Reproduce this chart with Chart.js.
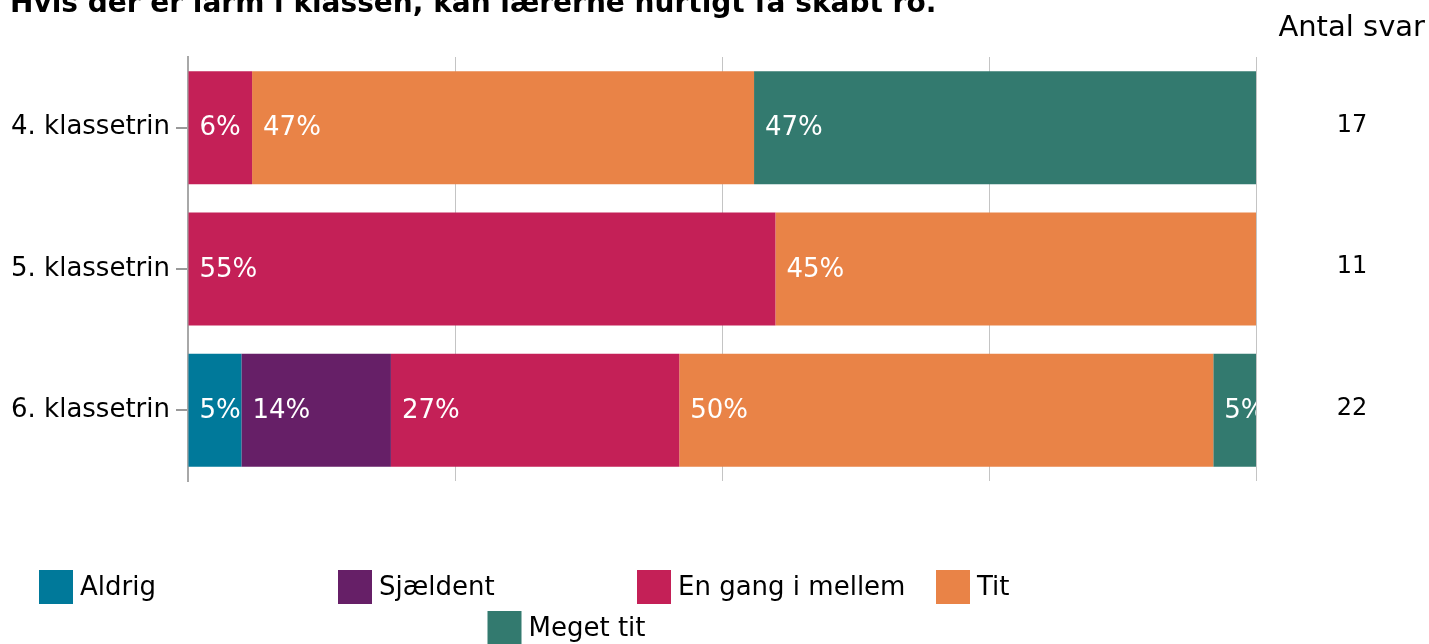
<!DOCTYPE html>
<html>
<head>
<meta charset="utf-8">
<script src="https://cdn.jsdelivr.net/npm/chart.js@4/dist/chart.umd.min.js"></script>
<style>
  html, body { margin: 0; padding: 0; background: #ffffff; }
  #chart { display: block; }
</style>
</head>
<body>
<canvas id="chart" width="1429" height="644"></canvas>
<script>
const titleText = "Hvis der er larm i klassen, kan lærerne hurtigt få skabt ro.";
const categories = ["4. klassetrin", "5. klassetrin", "6. klassetrin"];
const seriesNames = ["Aldrig", "Sjældent", "En gang i mellem", "Tit", "Meget tit"];
const aldrig = [0, 0, 5];
const sjaeldent = [0, 0, 14];
const enGang = [6, 55, 27];
const tit = [47, 45, 50];
const megetTit = [47, 0, 5];
const antalSvar = [17, 11, 22];

const color = {
  aldrig: "#00799a",
  sjaeldent: "#661f67",
  enGang: "#c42057",
  tit: "#e98347",
  megetTit: "#337a6f"
};

const FONT = "'DejaVu Sans', Verdana, sans-serif";

// percentage labels inside each segment, left aligned
const segmentLabels = {
  id: "segmentLabels",
  afterDatasetsDraw(chart) {
    const ctx = chart.ctx;
    const area = chart.chartArea;
    ctx.save();
    ctx.beginPath();
    ctx.rect(area.left, area.top, area.right - area.left, area.bottom - area.top);
    ctx.clip();
    ctx.font = "26px " + FONT;
    ctx.fillStyle = "#ffffff";
    ctx.textAlign = "left";
    ctx.textBaseline = "middle";
    chart.data.datasets.forEach((ds, i) => {
      const meta = chart.getDatasetMeta(i);
      meta.data.forEach((bar, j) => {
        const v = ds.data[j];
        if (!v) return;
        ctx.fillText(v + "%", Math.min(bar.base, bar.x) + 11, bar.y + 1);
      });
    });
    ctx.restore();
  }
};

// title, answer counts and the legend grid
const extras = {
  id: "extras",
  afterDraw(chart) {
    const ctx = chart.ctx;
    const yScale = chart.scales.y;
    ctx.save();

    ctx.font = "bold 28px " + FONT;
    ctx.fillStyle = "#000000";
    ctx.textAlign = "left";
    ctx.textBaseline = "alphabetic";
    ctx.fillText(titleText, 10, 12);

    ctx.font = "29px " + FONT;
    ctx.textAlign = "right";
    ctx.textBaseline = "middle";
    ctx.fillText("Antal svar", 1425, 28);

    ctx.font = "24px " + FONT;
    ctx.textAlign = "center";
    antalSvar.forEach((n, i) => {
      ctx.fillText(String(n), 1352, yScale.getPixelForValue(i) - 2);
    });

    // legend: fixed-width items, 4 per row, last row centred
    const perRow = 4, itemW = 299, left = 39, box = 34;
    const rowTops = [570, 611];
    ctx.font = "26px " + FONT;
    ctx.textAlign = "left";
    chart.data.datasets.forEach((ds, i) => {
      const row = Math.floor(i / perRow);
      const col = i % perRow;
      const inRow = Math.min(perRow, chart.data.datasets.length - row * perRow);
      const x = left + (perRow - inRow) * itemW / 2 + col * itemW;
      const y = rowTops[row];
      ctx.fillStyle = ds.backgroundColor;
      ctx.fillRect(x, y, box, box);
      ctx.fillStyle = "#000000";
      ctx.fillText(ds.label, x + 41, y + box / 2 + 1);
    });
    ctx.restore();
  }
};

const seriesData = [aldrig, sjaeldent, enGang, tit, megetTit];
const seriesColors = [color.aldrig, color.sjaeldent, color.enGang, color.tit, color.megetTit];

new Chart(document.getElementById("chart").getContext("2d"), {
  type: "bar",
  data: {
    labels: categories,
    datasets: seriesNames.map((name, i) => ({
      label: name,
      data: seriesData[i],
      backgroundColor: seriesColors[i],
      borderWidth: 0,
      categoryPercentage: 1,
      barPercentage: 0.8
    }))
  },
  options: {
    indexAxis: "y",
    responsive: false,
    animation: false,
    layout: { padding: { top: 57, right: 173, bottom: 163, left: 0 } },
    plugins: {
      legend: { display: false },
      title: { display: false },
      tooltip: { enabled: false }
    },
    scales: {
      x: {
        stacked: true,
        min: 0,
        max: 100,
        ticks: { display: false, stepSize: 25 },
        grid: { color: "#c4c4c4", lineWidth: 1, drawTicks: false },
        border: { display: false },
        afterFit(scale) { scale.height = 0; }
      },
      y: {
        stacked: true,
        ticks: {
          color: "#000000",
          font: { family: FONT, size: 26 },
          padding: 6
        },
        grid: { drawOnChartArea: false, offset: false, color: "#999999", lineWidth: 2, tickLength: 12 },
        border: { display: true, color: "#a8a8a8", width: 2 },
        afterFit(scale) { scale.width = 188; }
      }
    }
  },
  plugins: [segmentLabels, extras]
});
</script>
</body>
</html>
